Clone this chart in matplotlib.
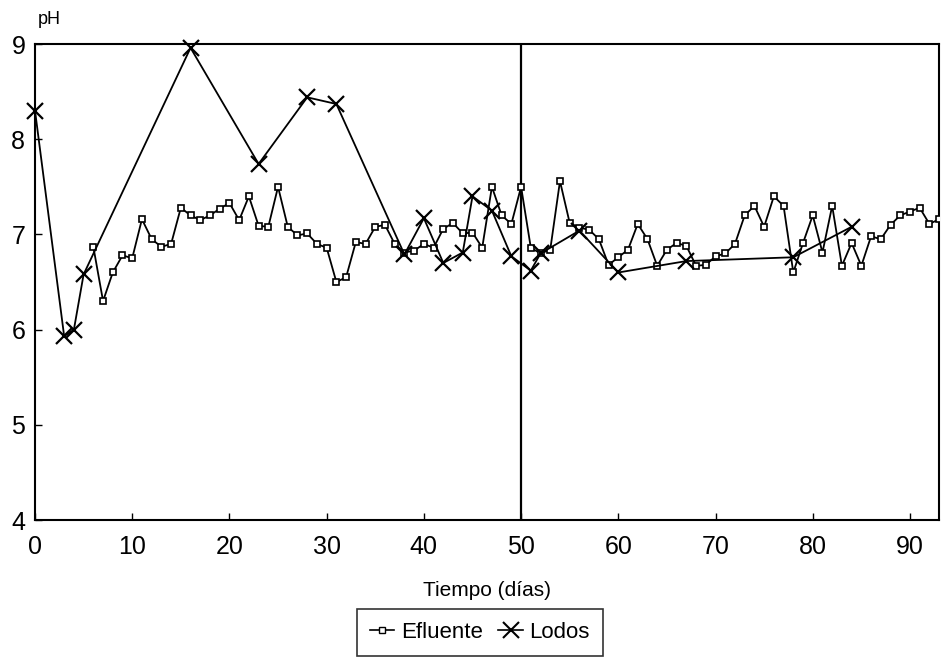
import matplotlib
matplotlib.use("Agg")
import matplotlib.pyplot as plt
from matplotlib.lines import Line2D

plt.rcParams['font.family'] = ['Liberation Sans', 'DejaVu Sans']

# Efluente: daily readings from day 6 to day 93
efl_days = list(range(6, 94))
efl_ph = [6.87, 6.30, 6.60, 6.78, 6.75, 7.16, 6.95, 6.87, 6.90, 7.28,
          7.20, 7.15, 7.20, 7.27, 7.33, 7.15, 7.40, 7.09, 7.08, 7.50,
          7.08, 6.99, 7.01, 6.90, 6.86, 6.50, 6.55, 6.92, 6.90, 7.08,
          7.10, 6.90, 6.81, 6.83, 6.90, 6.86, 7.06, 7.12, 7.01, 7.02,
          6.86, 7.50, 7.20, 7.11, 7.50, 6.86, 6.80, 6.84, 7.56, 7.12,
          7.07, 7.05, 6.95, 6.68, 6.76, 6.84, 7.11, 6.95, 6.67, 6.84,
          6.91, 6.88, 6.67, 6.68, 6.77, 6.80, 6.90, 7.20, 7.30, 7.08,
          7.40, 7.30, 6.60, 6.91, 7.20, 6.81, 7.30, 6.67, 6.91, 6.67,
          6.98, 6.95, 7.10, 7.20, 7.24, 7.28, 7.11, 7.16]

# Lodos
lod_days = [0, 3, 4, 5, 16, 23, 28, 31, 38, 40, 42, 44, 45, 47, 49, 51, 52,
            56, 60, 67, 78, 84]
lod_ph = [8.30, 5.93, 6.00, 6.58, 8.96, 7.74, 8.44, 8.37, 6.79, 7.17, 6.70,
          6.81, 7.40, 7.25, 6.77, 6.62, 6.80, 7.04, 6.60, 6.72, 6.76, 7.08]

x_ticks = [0, 10, 20, 30, 40, 50, 60, 70, 80, 90]
y_ticks = [4, 5, 6, 7, 8, 9]
divider_day = 50

fig = plt.figure(figsize=(9.41, 6.6), dpi=100)
ax = fig.add_axes([0.0372, 0.2121, 0.9608, 0.7212])

ax.plot(efl_days, efl_ph, color='black', lw=1.3, marker='s', ms=4.5,
        mfc='white', mec='black', mew=1.2, zorder=3)
ax.plot(lod_days, lod_ph, color='black', lw=1.3, marker='x', ms=12,
        mew=1.6, zorder=4, clip_on=False)

ax.axvline(divider_day, color='black', lw=1.6, zorder=2)

ax.set_xlim(0, 93)
ax.set_ylim(4, 9)
ax.set_xticks(x_ticks)
ax.set_yticks(y_ticks)
ax.tick_params(direction='in', length=5, width=1, labelsize=18)
ax.tick_params(axis='x', pad=11)
ax.tick_params(axis='y', pad=7)
for s in ax.spines.values():
    s.set_linewidth(1.5)

fig.text(0.5175, 0.105, 'Tiempo (días)', fontsize=15, ha='center', va='center')
fig.text(0.052, 0.970, 'pH', fontsize=13, ha='center', va='center')

handles = [
    Line2D([], [], color='black', lw=1.2, marker='s', ms=4, mfc='white', mec='black'),
    Line2D([], [], color='black', lw=1.2, marker='x', ms=11, mew=1.5),
]
leg = fig.legend(handles, ['Efluente', 'Lodos'], loc='center',
                 bbox_to_anchor=(0.510, 0.0417), ncol=2, fontsize=16,
                 frameon=True, fancybox=False, edgecolor='black',
                 handlelength=1.1, handletextpad=0.3, columnspacing=0.7,
                 borderpad=0.6, borderaxespad=0)
leg.get_frame().set_linewidth(1.2)

fig.savefig('out.png', dpi=100)
